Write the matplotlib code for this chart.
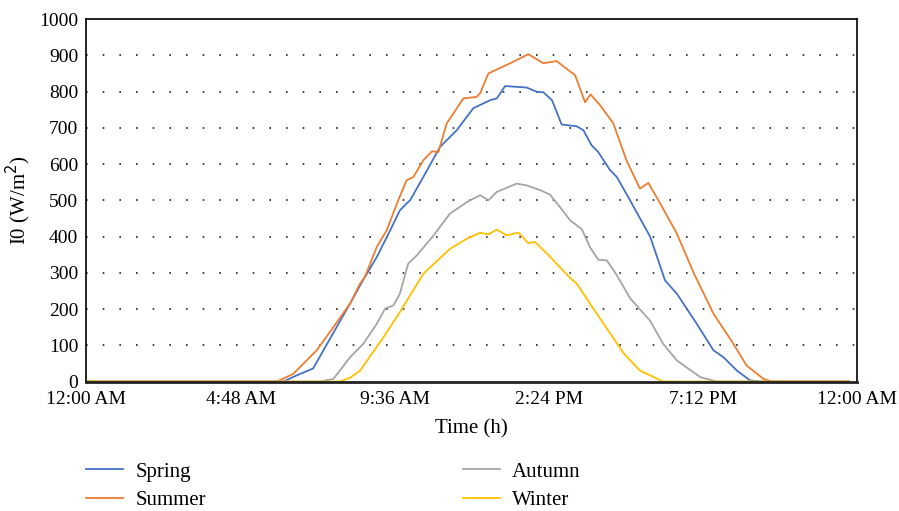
import numpy as np
import matplotlib.pyplot as plt

# hours of the day, values in W/m2
spring_t = [0, 6.13, 6.55, 7.06, 7.79, 8.21, 8.61, 9.04, 9.46, 9.76, 9.97, 10.08, 10.49,
            11.01, 11.53, 12.05, 12.57, 12.78, 13.04, 13.71, 14.03, 14.23, 14.50, 14.80,
            15.27, 15.48, 15.73, 15.94, 16.31, 16.52, 16.93, 17.56, 18.02, 18.39, 19.01,
            19.53, 19.84, 20.26, 20.67, 21.0, 23.75]
spring_v = [0, 0, 17, 36, 150, 215, 279, 343, 417, 472, 491, 500, 564,
            647, 693, 754, 776, 781, 815, 811, 799, 798, 776, 709,
            704, 693, 652, 633, 583, 564, 500, 399, 279, 242, 159,
            86, 67, 30, 3, 0, 0]

summer_t = [0, 5.93, 6.44, 7.17, 7.69, 8.21, 8.52, 8.67, 9.04, 9.35, 9.67, 9.97, 10.18,
            10.49, 10.76, 10.96, 11.22, 11.74, 12.15, 12.26, 12.52, 13.20, 13.76, 14.23,
            14.64, 15.01, 15.22, 15.53, 15.70, 16.00, 16.41, 16.82, 17.24, 17.50, 17.87,
            18.39, 18.91, 19.53, 20.15, 20.56, 21.09, 21.37, 23.75]
summer_v = [0, 0, 21, 86, 150, 215, 270, 288, 371, 417, 491, 555, 564,
            610, 635, 633, 712, 781, 785, 795, 850, 878, 903, 878,
            884, 859, 845, 770, 792, 762, 712, 610, 532, 548, 491,
            408, 300, 187, 104, 44, 7, 0, 0]

autumn_t = [0, 7.28, 7.69, 8.21, 8.62, 9.04, 9.30, 9.56, 9.76, 10.02, 10.29, 10.81, 11.32,
            11.85, 12.26, 12.52, 12.78, 13.40, 13.71, 14.13, 14.43, 14.75, 15.06, 15.43,
            15.68, 15.94, 16.21, 16.52, 16.93, 17.56, 17.96, 18.39, 19.12, 19.63, 23.75]
autumn_v = [0, 0, 7, 67, 104, 159, 201, 210, 242, 325, 348, 403, 463,
            495, 514, 500, 523, 546, 541, 528, 516, 481, 445, 420,
            371, 336, 334, 293, 230, 167, 104, 58, 12, 0, 0]

winter_t = [0, 7.90, 8.20, 8.52, 9.25, 9.76, 10.49, 11.32, 11.85, 12.26, 12.52, 12.78, 13.09,
            13.45, 13.76, 13.97, 14.43, 15.06, 15.27, 15.79, 16.73, 17.24, 17.56, 17.96, 23.75]
winter_v = [0, 0, 10, 30, 122, 191, 297, 366, 394, 410, 406, 419, 403,
            411, 382, 385, 345, 286, 270, 201, 78, 30, 17, 0, 0]

xticks = [0, 4.8, 9.6, 14.4, 19.2, 24]
xlabels = ['12:00 AM', '4:48 AM', '9:36 AM', '2:24 PM', '7:12 PM', '12:00 AM']

plt.rcParams['font.family'] = ['Liberation Serif', 'DejaVu Serif']

fig = plt.figure(figsize=(8.99, 5.11), dpi=100)
ax = fig.add_axes([0.0962, 0.2534, 0.8571, 0.7094])

ax.plot(spring_t, spring_v, color='#4472C4', lw=1.3, label='Spring')
ax.plot(summer_t, summer_v, color='#ED7D31', lw=1.3, label='Summer')
ax.plot(autumn_t, autumn_v, color='#A5A5A5', lw=1.3, label='Autumn')
ax.plot(winter_t, winter_v, color='#FFC000', lw=1.3, label='Winter')

ax.set_xlim(0, 24)
ax.set_ylim(0, 1000)
ax.set_xticks(xticks)
ax.set_xticklabels(xlabels)
ax.set_yticks(np.arange(0, 1001, 100))
ax.tick_params(length=0, labelsize=14)
ax.tick_params(axis='y', pad=6)
ax.tick_params(axis='x', pad=7)

for y in range(100, 1000, 100):
    ax.axhline(y, color='#222222', lw=1.2, ls=(0, (1, 9)), zorder=0)

for s in ['left', 'top', 'right']:
    ax.spines[s].set_linewidth(1.2)
    ax.spines[s].set_color('black')
ax.spines['bottom'].set_linewidth(2)
ax.spines['bottom'].set_color('#222222')

ax.set_xlabel('Time (h)', fontsize=15, labelpad=8)
ax.set_ylabel('I0 (W/m$^2$)', fontsize=15, labelpad=4)

fig.legend(loc='upper left', bbox_to_anchor=(0.096, 0.096), ncol=2, frameon=False,
           fontsize=15, handlelength=1.75, handletextpad=0.6, columnspacing=12.35,
           labelspacing=0.45, borderpad=0, borderaxespad=0)

fig.savefig('out.png', dpi=100)
